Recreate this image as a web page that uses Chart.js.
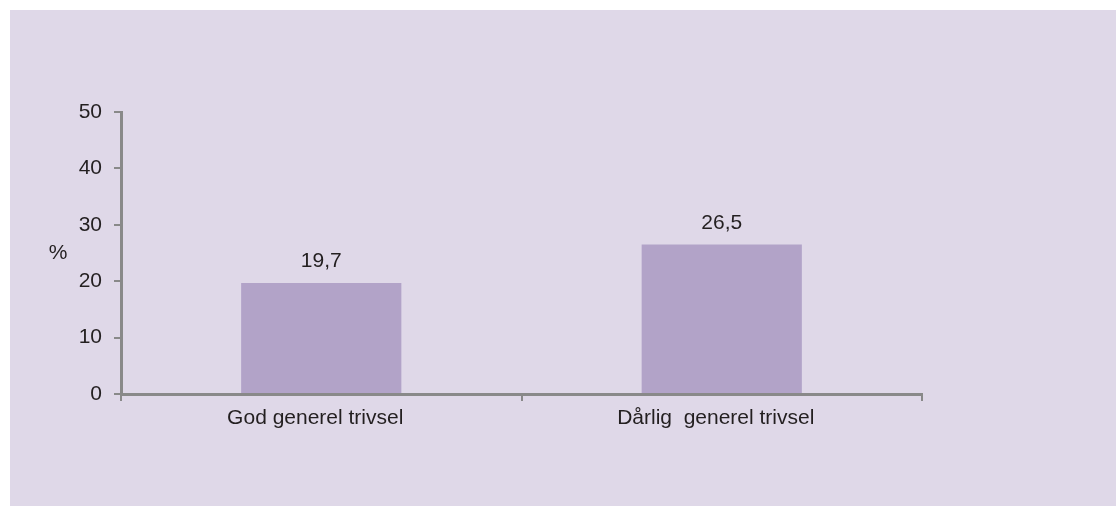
<!DOCTYPE html>
<html>
<head>
<meta charset="utf-8">
<script src="https://cdn.jsdelivr.net/npm/chart.js@4/dist/chart.umd.min.js"></script>
<style>
    html, body { margin: 0; padding: 0; background: #ffffff; }
    #wrap { position: absolute; left: 0; top: 0; width: 1116px; height: 506px; }
</style>
</head>
<body>
<div id="wrap"><canvas id="trivselChart" width="1116" height="506"></canvas></div>
<script>
// data
const categories = ["God generel trivsel", "Dårlig  generel trivsel"];
const percentValues = [19.7, 26.5];
const yTicks = [0, 10, 20, 30, 40, 50];
const yTitle = "%";

const FONT = "'Liberation Sans', Arial, sans-serif";
const TEXT = "#231f20";
const AXIS = "#898989";

// lavender panel behind the chart
const panelPlugin = {
    id: "panel",
    beforeDraw(chart) {
        const ctx = chart.ctx;
        ctx.save();
        ctx.fillStyle = "#dfd8e8";
        ctx.fillRect(10, 10, chart.width - 10, chart.height - 10);
        ctx.restore();
    }
};

// value labels above bars + horizontal "%" title
const labelPlugin = {
    id: "labels",
    afterDatasetsDraw(chart) {
        const ctx = chart.ctx;
        ctx.save();
        ctx.font = "21px " + FONT;
        ctx.fillStyle = TEXT;
        ctx.textAlign = "center";
        ctx.textBaseline = "alphabetic";
        chart.getDatasetMeta(0).data.forEach((bar, i) => {
            const txt = percentValues[i].toFixed(1).replace(".", ",");
            ctx.fillText(txt, bar.x, bar.y - 16);
        });
        const y = chart.scales.y;
        ctx.textBaseline = "middle";
        ctx.fillText(yTitle, 58, y.getPixelForValue(25));
        ctx.restore();
    }
};

new Chart(document.getElementById("trivselChart"), {
    type: "bar",
    data: {
        labels: categories,
        datasets: [{
            data: percentValues,
            backgroundColor: "#b2a3c8",
            barPercentage: 0.4,
            categoryPercentage: 1.0
        }]
    },
    options: {
        responsive: false,
        animation: false,
        layout: { padding: { left: 0, top: 112, right: 194, bottom: 0 } },
        plugins: { legend: { display: false }, tooltip: { enabled: false } },
        scales: {
            x: {
                afterFit: s => { s.height = 506 - 394; },
                grid: { drawOnChartArea: false, drawTicks: true, tickLength: 7, color: AXIS, lineWidth: 2, offset: true },
                border: { color: AXIS, width: 3 },
                ticks: { color: TEXT, font: { family: FONT, size: 21 }, padding: 5, labelOffset: -6 }
            },
            y: {
                min: 0,
                max: 50,
                afterFit: s => { s.width = 121; },
                afterBuildTicks: s => { s.ticks = yTicks.map(v => ({ value: v })); },
                grid: { drawOnChartArea: false, drawTicks: true, tickLength: 7, color: AXIS, lineWidth: 2 },
                border: { color: AXIS, width: 3 },
                ticks: { color: TEXT, font: { family: FONT, size: 21 }, padding: 12 }
            }
        }
    },
    plugins: [panelPlugin, labelPlugin]
});
</script>
</body>
</html>
